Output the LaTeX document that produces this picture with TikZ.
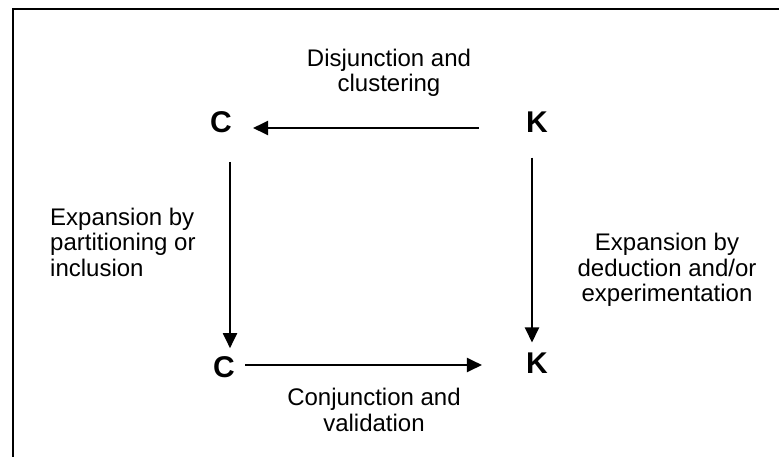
\documentclass[tikz,border=0pt]{standalone}
\usepackage{fontspec}
\setmainfont{Liberation Sans}
\usetikzlibrary{arrows.meta}
\begin{document}
\begin{tikzpicture}[x=1pt,y=-1pt,
  letter/.style={font=\fontsize{30}{36}\selectfont\bfseries, inner sep=0pt},
  caption/.style={font=\fontsize{24}{25.5}\selectfont, inner sep=0pt},
  flow/.style={line width=2pt, -{Triangle[length=15pt,width=14pt]}}]
  \useasboundingbox (0,0) rectangle (779,456);
  \clip (0,0) rectangle (779,456);
  % outer frame, running past the lower and right edges
  \draw[line width=2pt] (13,9) rectangle (800,480);

  % the four states
  \node[letter] (C1) at (221,122) {C};
  \node[letter] (K1) at (537,122) {K};
  \node[letter] (C2) at (224,367) {C};
  \node[letter] (K2) at (537,363) {K};

  % transitions
  \draw[flow, shorten <=47pt, shorten >=21pt]
    ([yshift=-6pt]K1.west) -- ([yshift=-6pt]K1.west -| C1.east);
  \draw[flow, shorten <=29pt, shorten >=8pt]
    ([xshift=9pt]C1.south) -- ([xshift=9pt]C1.south |- C2.north);
  \draw[flow, shorten <=25pt, shorten >=10pt]
    ([xshift=-5pt]K1.south) -- ([xshift=-5pt]K1.south |- K2.north);
  \draw[flow, shorten <=10pt, shorten >=44pt]
    ([yshift=2pt]C2.east) -- ([yshift=2pt]C2.east -| K2.west);

  % transition labels
  \node[caption, align=center] (top) at (389,73) {Disjunction and\\clustering};
  \node[caption, align=left, anchor=west] (left) at (50,242) {Expansion by\\partitioning or\\inclusion};
  \node[caption, align=center] (right) at (667,270) {Expansion by\\deduction and/or\\experimentation};
  \node[caption, align=center] (bottom) at (374,410) {Conjunction and\\validation};
\end{tikzpicture}
\end{document}
